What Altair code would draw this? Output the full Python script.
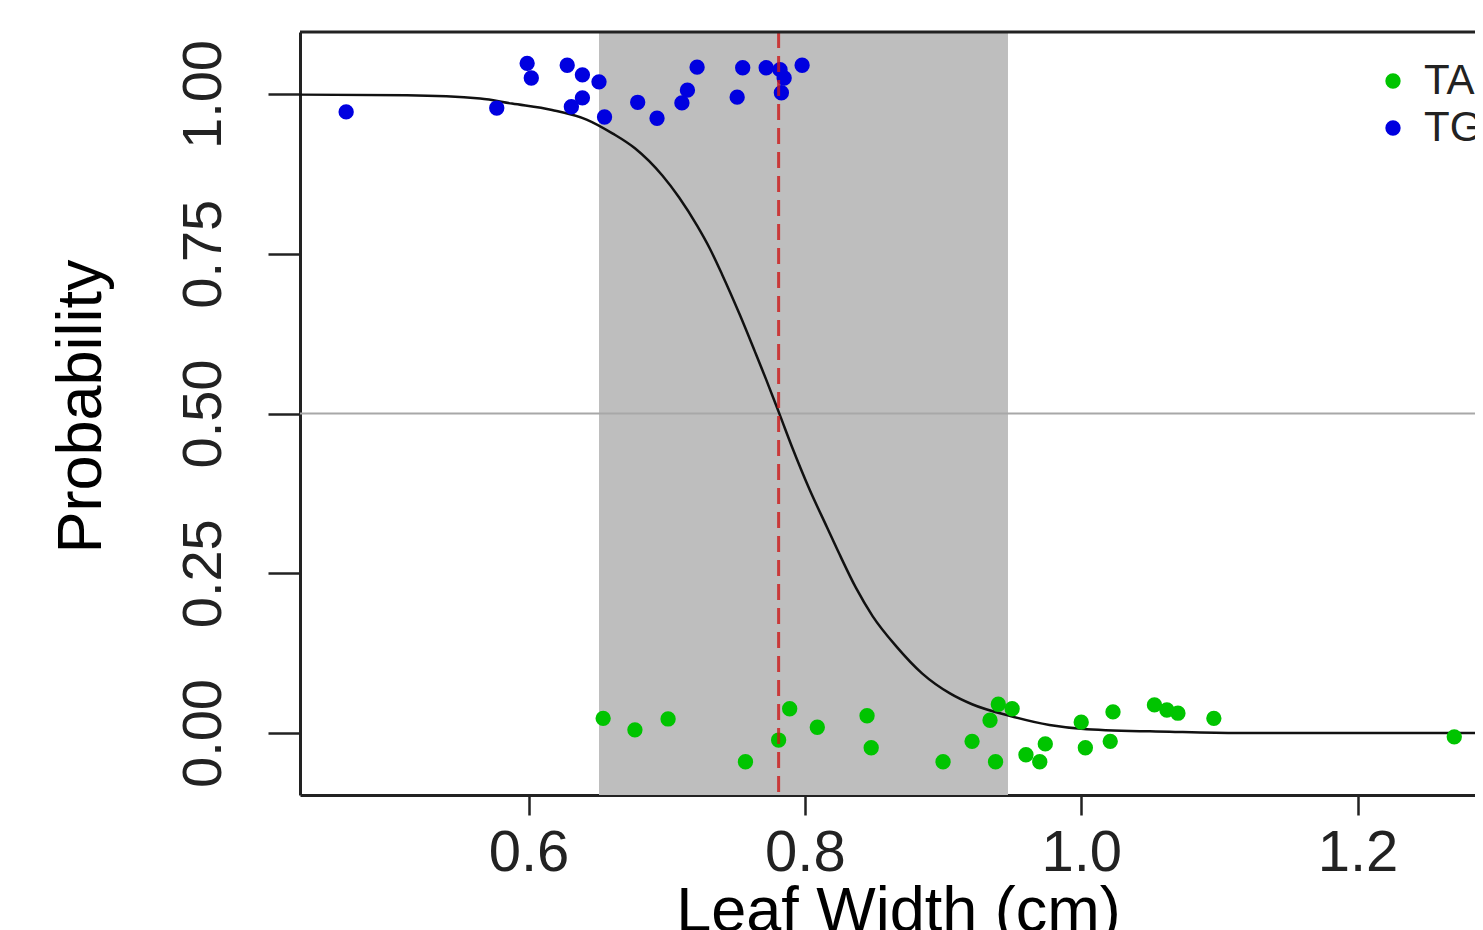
import altair as alt
import pandas as pd

# ---- data ----
ta_x = [0.654, 0.677, 0.701, 0.757, 0.781, 0.789, 0.809, 0.845, 0.848, 0.900,
        0.921, 0.934, 0.940, 0.950, 0.938, 0.960, 0.974, 0.970, 1.000, 1.003,
        1.023, 1.021, 1.053, 1.062, 1.070, 1.096, 1.270]
ta_y = [0.023, 0.005, 0.022, -0.045, -0.011, 0.038, 0.009, 0.027, -0.023, -0.045,
        -0.013, 0.020, 0.045, 0.038, -0.045, -0.034, -0.017, -0.045, 0.017, -0.023,
        0.033, -0.013, 0.044, 0.036, 0.031, 0.023, -0.006]

tg_x = [0.468, 0.577, 0.599, 0.602, 0.628, 0.639, 0.651, 0.631, 0.639, 0.655,
        0.679, 0.693, 0.715, 0.711, 0.722, 0.751, 0.755, 0.772, 0.782, 0.785,
        0.783, 0.798]
tg_y = [0.972, 0.978, 1.048, 1.025, 1.045, 1.030, 1.019, 0.980, 0.994, 0.964,
        0.987, 0.962, 1.006, 0.986, 1.042, 0.995, 1.041, 1.041, 1.038, 1.025,
        1.002, 1.045]

curve_x = [0.434, 0.512, 0.565, 0.588, 0.617, 0.642, 0.661, 0.677, 0.697, 0.709,
           0.722, 0.731, 0.740, 0.753, 0.764, 0.772, 0.782, 0.791, 0.803, 0.816,
           0.825, 0.837, 0.849, 0.866, 0.885, 0.905, 0.921, 0.948, 0.977, 1.004,
           1.064, 1.114, 1.290]
curve_y = [0.999, 0.998, 0.993, 0.985, 0.975, 0.960, 0.938, 0.915, 0.872, 0.838,
           0.794, 0.759, 0.718, 0.654, 0.596, 0.553, 0.497, 0.446, 0.383, 0.322,
           0.280, 0.227, 0.183, 0.136, 0.093, 0.062, 0.045, 0.027, 0.0125, 0.006,
           0.002, 0.000, 0.000]

band_lo = [0.651]
band_hi = [0.947]
cut_x = [0.781]
half_y = [0.5]

x_ticks = [0.6, 0.8, 1.0, 1.2]
y_ticks = [0.0, 0.25, 0.5, 0.75, 1.0]
species = ["TA", "TG"]
species_colors = ["#00C400", "#0000E0"]

# ---- tables ----
pts = pd.DataFrame({
    "x": ta_x + tg_x,
    "y": ta_y + tg_y,
    "species": ["TA"] * len(ta_x) + ["TG"] * len(tg_x),
})
curve = pd.DataFrame({"x": curve_x, "y": curve_y})
band = pd.DataFrame({"lo": band_lo, "hi": band_hi})
vline = pd.DataFrame({"x": cut_x})
hline = pd.DataFrame({"y": half_y})

W, H = 1175, 763
FONT = "Liberation Sans"

xs = alt.Scale(domain=[0.4346, 1.2850], nice=False, zero=False)
ys = alt.Scale(domain=[-0.097, 1.097], nice=False, zero=False)

xaxis = alt.Axis(values=x_ticks, format=".1f", title="Leaf Width (cm)", grid=False,
                 tickSize=20, tickWidth=2.5, tickColor="#222", domainColor="#222",
                 domainWidth=3, labelFontSize=58, labelPadding=55,
                 labelBaseline="alphabetic", labelColor="#222", labelFont=FONT,
                 titleFontSize=63, titleFont=FONT, titleFontWeight="normal",
                 titleX=598, titleY=135, titleBaseline="alphabetic", titleColor="#000")
yaxis = alt.Axis(values=y_ticks, format=".2f", title="Probability", grid=False,
                 tickSize=32, tickWidth=2.5, tickColor="#222", domainColor="#222",
                 domainWidth=3, labelFontSize=56, labelPadding=48, labelAngle=270,
                 labelAlign="center", labelBaseline="alphabetic", labelColor="#222",
                 labelFont=FONT, titleFontSize=63, titleFont=FONT,
                 titleFontWeight="normal", titleAngle=270, titleX=-200, titleY=374,
                 titleBaseline="alphabetic", titleAlign="center", titleColor="#000")

band_layer = alt.Chart(band).mark_rect(color="#BEBEBE").encode(
    x=alt.X("lo:Q", scale=xs, axis=xaxis),
    x2="hi:Q",
)
hline_layer = alt.Chart(hline).mark_rule(color="#A8A8A8", strokeWidth=2).encode(
    y=alt.Y("y:Q", scale=ys, axis=yaxis)
)
curve_layer = alt.Chart(curve).mark_line(color="#111", strokeWidth=2.5,
                                         interpolate="monotone").encode(
    x=alt.X("x:Q", scale=xs, axis=xaxis),
    y=alt.Y("y:Q", scale=ys, axis=yaxis),
)
pts_layer = alt.Chart(pts).mark_circle(size=235, opacity=1).encode(
    x=alt.X("x:Q", scale=xs, axis=xaxis),
    y=alt.Y("y:Q", scale=ys, axis=yaxis),
    color=alt.Color("species:N",
                    scale=alt.Scale(domain=species, range=species_colors),
                    legend=alt.Legend(orient="none", legendX=1072, legendY=28,
                                      title=None, labelFontSize=42, labelFont=FONT,
                                      labelColor="#222", symbolSize=235,
                                      symbolType="circle", labelOffset=10,
                                      rowPadding=5, symbolOpacity=1)),
)
vline_layer = alt.Chart(vline).mark_rule(color="#CC1818", opacity=0.8, strokeWidth=3,
                                         strokeDash=[16, 8]).encode(
    x=alt.X("x:Q", scale=xs, axis=xaxis)
)
top_frame = alt.Chart(band).mark_rule(color="#222", strokeWidth=3).encode(
    y=alt.value(0)
)

chart = alt.layer(band_layer, hline_layer, curve_layer, pts_layer, vline_layer,
                  top_frame).properties(
    width=W, height=H,
    autosize=alt.AutoSizeParams(type="none"),
    padding={"left": 292, "top": 24, "right": 0, "bottom": 135},
    background="white",
).configure_view(stroke=None)

chart.save("out.html", embed_options={"renderer": "svg", "actions": False})
